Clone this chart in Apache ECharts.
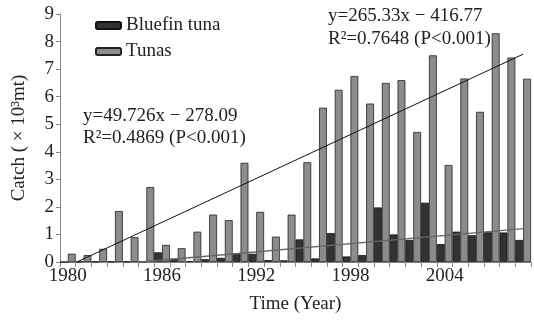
<!DOCTYPE html>
<html>
<head>
<meta charset="utf-8">
<style>
  html, body { margin: 0; padding: 0; background: #fff; }
  #chart { width: 534px; height: 322px; }
</style>
<script src="https://cdn.jsdelivr.net/npm/echarts@6/dist/echarts.min.js"></script>
</head>
<body>
<div id="chart"></div>
<script>
// catch in 10^3 mt, 1980-2009
var years = [];
for (var y = 1980; y <= 2009; y++) years.push(String(y));

var bluefin = [0, 0.02, 0.02, 0.02, 0.02, 0.02, 0.35, 0.12, 0.03, 0.1, 0.15, 0.3, 0.3, 0.07, 0.06, 0.82,
  0.13, 1.05, 0.2, 0.25, 1.98, 1.0, 0.8, 2.15, 0.65, 1.1, 0.97, 1.08, 1.07, 0.8];
var tunas = [0.3, 0.25, 0.48, 1.85, 0.9, 2.72, 0.62, 0.5, 1.1, 1.72, 1.52, 3.6, 1.82, 0.92, 1.72, 3.62,
  5.6, 6.25, 6.75, 5.75, 6.5, 6.6, 4.72, 7.5, 3.52, 6.66, 5.45, 8.3, 7.42, 6.65];

// trend line end points (x = year index, 1980 = 1)
var tunasTrend = [[1.571, 0], [30, 7.543]];
var bluefinTrend = [[5.592, 0], [30, 1.214]];

var yTicks = [0, 9, 1];
var font = "'Liberation Serif', 'Times New Roman', serif";

var myChart = echarts.init(document.getElementById("chart"));
var option = {
  animation: false,
  textStyle: { fontFamily: font, color: "#222" },
  grid: { left: 60, right: 3, top: 14, bottom: 60 },
  legend: {
    orient: "vertical",
    left: 90,
    top: 11,
    itemWidth: 25,
    itemHeight: 7,
    itemGap: 7,
    textStyle: { fontFamily: font, fontSize: 19, color: "#222" },
    data: ["Bluefin tuna", "Tunas"]
  },
  xAxis: [
    {
      type: "category",
      data: years,
      name: "Time (Year)",
      nameLocation: "middle",
      nameGap: 33,
      nameTextStyle: { fontFamily: font, fontSize: 19, color: "#222" },
      axisLine: { lineStyle: { color: "#888" } },
      axisTick: { show: true, interval: 0, length: 5, lineStyle: { color: "#888" } },
      axisLabel: { interval: 5, fontSize: 19, color: "#222", margin: 5 }
    },
    {
      type: "value",
      show: false,
      min: 0.5,
      max: 30.5
    }
  ],
  yAxis: {
    type: "value",
    min: yTicks[0],
    max: yTicks[1],
    interval: yTicks[2],
    name: "Catch ( × 10³mt)",
    nameLocation: "middle",
    nameGap: 31,
    nameTextStyle: { fontFamily: font, fontSize: 19, color: "#222" },
    axisLine: { show: true, lineStyle: { color: "#888" } },
    axisTick: { show: true, length: 4, lineStyle: { color: "#888" } },
    splitLine: { show: false },
    axisLabel: { fontSize: 19, color: "#222", margin: 6 }
  },
  series: [
    {
      name: "Bluefin tuna",
      type: "bar",
      data: bluefin,
      barGap: 0,
      barCategoryGap: "0%",
      itemStyle: { color: "#333", borderColor: "#111", borderWidth: 0.8 }
    },
    {
      name: "Tunas",
      type: "bar",
      data: tunas,
      itemStyle: { color: "#8c8c8c", borderColor: "#222", borderWidth: 0.8 }
    },
    {
      name: "tunasTrend",
      type: "line",
      xAxisIndex: 1,
      data: tunasTrend,
      symbol: "none",
      lineStyle: { color: "#111", width: 1 },
      z: 5
    },
    {
      name: "bluefinTrend",
      type: "line",
      xAxisIndex: 1,
      data: bluefinTrend,
      symbol: "none",
      lineStyle: { color: "#666", width: 1.3 },
      z: 5
    }
  ],
  graphic: [
    {
      type: "text", left: 83, top: 105,
      style: { text: "y=49.726x − 278.09\nR²=0.4869 (P<0.001)", font: "19px " + font, fill: "#222", lineHeight: 22 }
    },
    {
      type: "text", left: 328, top: 5,
      style: { text: "y=265.33x − 416.77\nR²=0.7648 (P<0.001)", font: "19px " + font, fill: "#222", lineHeight: 23 }
    }
  ]
};
myChart.setOption(option);
</script>
</body>
</html>
